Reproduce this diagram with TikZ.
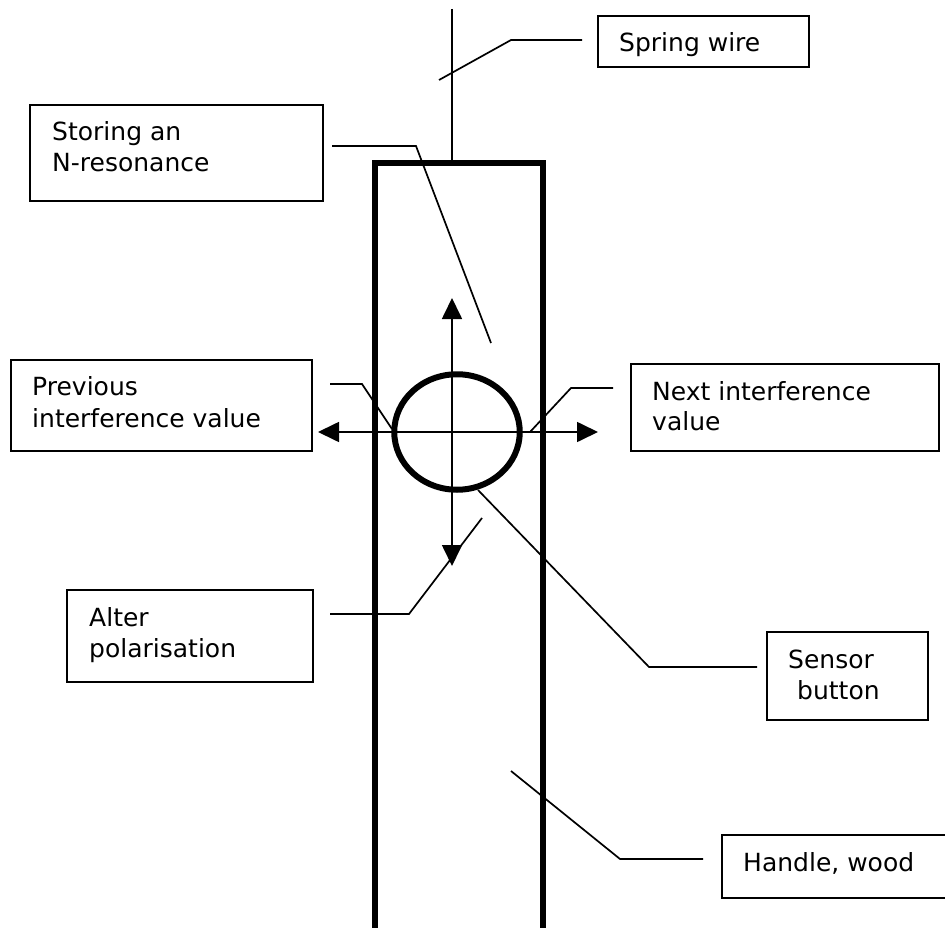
\documentclass[tikz,border=0pt]{standalone}
\usepackage{fontspec}
\setmainfont{DejaVu Sans}
\usetikzlibrary{arrows.meta,shapes.geometric}
\begin{document}
\begin{tikzpicture}[x=1pt,y=-1pt,
  lbl/.style={draw=black,line width=1.7pt,inner sep=0pt},
  txt/.style={anchor=base west,font=\fontsize{25}{30}\selectfont,inner sep=0pt},
  leader/.style={line width=1.7pt,black},
  thick line/.style={line width=6pt,black},
  dbl/.style={line width=1.7pt,black,{Triangle[length=21pt,width=20pt]}-{Triangle[length=21pt,width=20pt]}}]
\useasboundingbox (0,0) rectangle (945,928);
\coordinate (wireTop) at (452,9);
\coordinate (wireBot) at (452,163);
\coordinate (hTL) at (375,163.5);
\coordinate (hTR) at (543,163.5);
\coordinate (hBL) at (375,928);
\coordinate (hBR) at (543,928);
\draw[leader] (wireTop) -- (wireBot);
\draw[thick line,line cap=butt,line join=miter] (hBL) -- (hTL) -- (hTR) -- (hBR);
% boxes
\draw[lbl] (598,16) rectangle (809,67);
\node[txt] at (619,52) {Spring wire};
\draw[lbl] (30,105) rectangle (323,201);
\node[txt] at (52,141) {Storing an};
\node[txt] at (52,172) {N-resonance};
\draw[lbl] (11,360) rectangle (312,451);
\node[txt] at (32,395) {Previous};
\node[txt] at (32,427) {interference value};
\draw[lbl] (631,364) rectangle (939,451);
\node[txt] at (652,400) {Next interference};
\node[txt] at (652,430) {value};
\draw[lbl] (67,590) rectangle (313,682);
\node[txt] at (89,626) {Alter};
\node[txt] at (89,657) {polarisation};
\draw[lbl] (767,632) rectangle (928,720);
\node[txt] at (788,668) {Sensor};
\node[txt] at (797,699) {button};
\draw[lbl] (722,835) rectangle (950,898);
\node[txt] at (743,871) {Handle, wood};
% button
\node[draw=black,line width=6pt,ellipse,minimum width=125.5pt,minimum height=115.5pt,inner sep=0pt] (btn) at (457,432) {};
% arrows
\coordinate (aU) at (452,298);
\coordinate (aD) at (452,566);
\coordinate (aL) at (318,432);
\coordinate (aR) at (598,432);
\draw[dbl] (aU) -- (aD);
\draw[dbl] (aL) -- (aR);
% leaders
\draw[leader] (439,80) -- (511,40) -- (582,40);
\draw[leader] (332,146) -- (416,146) -- (491,343);
\draw[leader] (330,384) -- (362,384) -- (392,429);
\draw[leader] (613,388) -- (571,388) -- (530,432);
\draw[leader] (330,614) -- (409,614) -- (482,518);
\draw[leader] (478,490) -- (649,667) -- (757,667);
\draw[leader] (511,771) -- (620,859) -- (703,859);
\end{tikzpicture}
\end{document}
